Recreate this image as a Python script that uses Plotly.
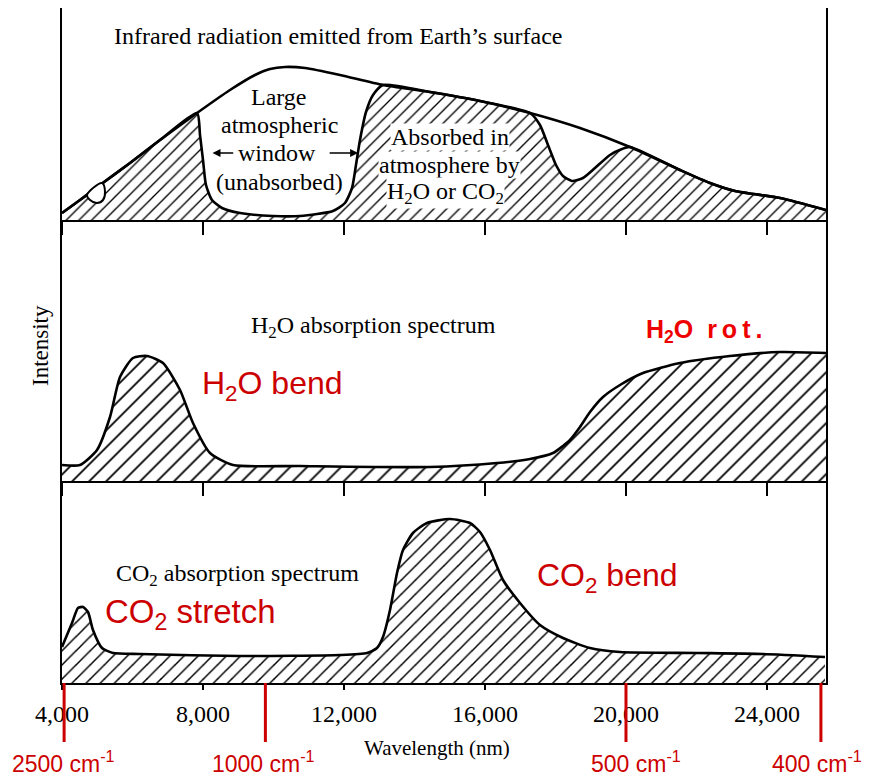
import plotly.graph_objects as go

# ---------------- data ----------------
# Top panel: infrared emission envelope from Earth's surface (arbitrary units)
surface_nm = [4000, 4511, 5078, 5929, 6780, 7830, 8766, 9475, 9901, 10326, 10894, 11887,
              13106, 14440, 15858, 17277, 18695, 20113, 21532, 22383, 23092, 24369, 25674]
surface_I = [7, 20, 35, 57, 80, 107, 130, 145, 151, 153, 152, 145,
             135, 128, 119, 107, 92, 73, 50, 37, 29, 22, 10]

# Top panel: upper boundary of the part absorbed by H2O / CO2
absorbed_nm = [4000, 4511, 5078, 5929, 6780, 7830, 7915, 8000, 8085, 8255, 8539, 9050, 9986,
               10752, 11688, 12028, 12227, 12340, 12454, 12624, 12823, 13106, 14440, 15858,
               17277, 17560, 17787, 18014, 18213, 18468, 18780, 19121, 19546, 19887, 20113,
               21532, 22383, 23092, 24369, 25674]
absorbed_I = [7, 20, 35, 57, 80, 107, 85, 60, 35, 20, 12, 7, 4,
              4, 9, 17, 32, 55, 80, 108, 125, 135, 128, 119,
              107, 95, 75, 55, 44, 39, 42, 52, 65, 71, 73,
              50, 37, 29, 22, 10]

# small unabsorbed pocket near 4,800 nm
pocket_nm = [4709, 4794, 4993, 5163, 5220, 5135, 4709]
pocket_I = [25, 20, 17, 20, 28, 37, 25]

# Middle panel: H2O absorption spectrum
h2o_nm = [4000, 4511, 4993, 5362, 5645, 6014, 6411, 6865, 7348, 7716, 8199, 8851,
          10752, 14440, 16340, 17277, 17929, 18213, 18411, 18695, 18979, 19348, 19830,
          20482, 21532, 22950, 24369, 25674]
h2o_I = [16, 16, 31, 64, 104, 123, 125, 118, 91, 58, 28, 16,
         15, 14, 18, 22, 28, 35, 41, 54, 69, 84, 96,
         108, 118, 125, 129, 128]

# Bottom panel: CO2 absorption spectrum
co2_nm = [4000, 4284, 4454, 4596, 4738, 4879, 5135, 5447, 6213, 9050, 11887, 12652, 12936,
          13106, 13305, 13504, 13674, 13957, 14355, 15007, 15574, 15858, 16142, 16511,
          16993, 17560, 18213, 18979, 19830, 22014, 23887, 25645]
co2_I = [36, 60, 75, 76, 71, 53, 35, 30, 29, 27, 28, 30, 35,
         46, 73, 110, 133, 150, 160, 164, 160, 151, 133, 103,
         80, 58, 45, 35, 31, 30, 29, 26]

tick_vals = [4000, 8000, 12000, 16000, 20000, 24000]
tick_text = ["4,000", "8,000", "12,000", "16,000", "20,000", "24,000"]

marker_nm = [4060, 9770, 20000, 25530]
marker_text = ["2500 cm<sup>-1</sup>", "1000 cm<sup>-1</sup>", "500 cm<sup>-1</sup>", "400 cm<sup>-1</sup>"]

# ---------------- figure ----------------
SERIF = "Liberation Serif"
SANS = "Liberation Sans"
RED = "#cc0000"
x_range = [4000, 25674]

fig = go.Figure()

def hatch(size):
    return dict(shape="/", size=size, solidity=0.15, fgcolor="black", bgcolor="white", fgopacity=1)

line_style = dict(color="black", width=2.6, shape="spline", smoothing=0.6)

# top panel
fig.add_trace(go.Scatter(x=absorbed_nm, y=absorbed_I, xaxis="x3", yaxis="y3", mode="lines",
                         line=line_style, fill="tozeroy", fillpattern=hatch(9), hoverinfo="skip"))
fig.add_trace(go.Scatter(x=surface_nm, y=surface_I, xaxis="x3", yaxis="y3", mode="lines",
                         line=line_style, hoverinfo="skip"))
fig.add_trace(go.Scatter(x=pocket_nm, y=pocket_I, xaxis="x3", yaxis="y3", mode="lines",
                         line=dict(color="black", width=2, shape="spline"), fill="toself",
                         fillcolor="white", hoverinfo="skip"))
# middle panel
fig.add_trace(go.Scatter(x=h2o_nm, y=h2o_I, xaxis="x2", yaxis="y2", mode="lines",
                         line=line_style, fill="tozeroy", fillpattern=hatch(12), hoverinfo="skip"))
# bottom panel
fig.add_trace(go.Scatter(x=co2_nm, y=co2_I, xaxis="x", yaxis="y", mode="lines",
                         line=line_style, fill="tozeroy", fillpattern=hatch(10), hoverinfo="skip"))

H = 675.0
d1 = 202 / H
d2 = 463 / H

axis_common = dict(range=x_range, showgrid=False, zeroline=False, showline=True,
                   linecolor="black", linewidth=2, tickvals=tick_vals, tickcolor="black",
                   tickwidth=1.5)
yaxis_common = dict(showgrid=False, zeroline=False, showline=True, mirror=True,
                    linecolor="black", linewidth=1.5, showticklabels=False, ticks="")

# the page adds an 8px body margin, so the figure is drawn 8px in from the top-left
fig.update_layout(
    width=863, height=769,
    margin=dict(l=54, r=45, t=0, b=94),
    paper_bgcolor="white", plot_bgcolor="white",
    showlegend=False,
    xaxis=dict(**axis_common, anchor="y", ticks="outside", ticklen=5, ticktext=tick_text,
               tickfont=dict(family=SERIF, size=24, color="black"), ticklabelstandoff=3),
    xaxis2=dict(**axis_common, anchor="y2", ticks="outside", ticklen=13, showticklabels=False,
                matches="x"),
    xaxis3=dict(**axis_common, anchor="y3", ticks="outside", ticklen=13, showticklabels=False,
                matches="x"),
    yaxis=dict(**yaxis_common, domain=[0, d1], range=[0, 202]),
    yaxis2=dict(**yaxis_common, domain=[d1, d2], range=[0, 261]),
    yaxis3=dict(**yaxis_common, domain=[d2, 1], range=[0, 212]),
)

ann = []
def txt(x, y, text, xref, yref, size=24, family=SERIF, color="black", xanchor="center", **kw):
    ann.append(dict(x=x, y=y, xref=xref, yref=yref, text=text, showarrow=False,
                    font=dict(family=family, size=size, color=color), xanchor=xanchor,
                    yanchor="middle", **kw))

# top panel text
txt(11830, 184, "Infrared radiation emitted from Earth\u2019s surface", "x3", "y3")
txt(10156, 123, "Large", "x3", "y3")
txt(10156, 95, "atmospheric", "x3", "y3")
txt(10100, 67, "window", "x3", "y3")
txt(10156, 38, "(unabsorbed)", "x3", "y3")
txt(15007, 83, "Absorbed in", "x3", "y3", bgcolor="white", borderpad=0)
txt(15007, 55, "atmosphere by", "x3", "y3", bgcolor="white", borderpad=0)
txt(14866, 27, "H<sub>2</sub>O or CO<sub>2</sub>", "x3", "y3", bgcolor="white", borderpad=0)
# window arrows
for tail, head in [(8900, 8270), (11550, 12400)]:
    ann.append(dict(x=head, y=67, ax=tail, ay=67, xref="x3", yref="y3", axref="x3", ayref="y3",
                    text="", showarrow=True, arrowhead=2, arrowsize=1, arrowwidth=1.6,
                    arrowcolor="black"))

# middle panel text
txt(12823, 154, "H<sub>2</sub>O absorption spectrum", "x2", "y2")
txt(7915, 96, "H<sub>2</sub>O bend", "x2", "y2", size=32, family=SANS, color=RED, xanchor="left")
txt(22213, 150, "<b>H<sub>2</sub>O  r\u2009o\u2009t\u2009.</b>", "x2", "y2", size=25, family=SANS,
    color="#ee0000")

# bottom panel text
txt(8965, 108, "CO<sub>2</sub> absorption spectrum", "x", "y")
txt(5163, 69, "CO<sub>2</sub> stretch", "x", "y", size=33, family=SANS, color=RED, xanchor="left")
txt(17419, 106, "CO<sub>2</sub> bend", "x", "y", size=32, family=SANS, color=RED, xanchor="left")

# axis titles
txt(-0.0288, 0.5007, "Intensity", "paper", "paper", size=23, textangle=-90)
txt(0.4908, -0.0963, "Wavelength (nm)", "paper", "paper", size=21)

# wavenumber markers
shapes = []
xshifts = [-1, -2, 10, -4]
for xv, t, xs in zip(marker_nm, marker_text, xshifts):
    shapes.append(dict(type="line", xref="x", yref="paper", x0=xv, x1=xv, y0=0, y1=-0.0874,
                       line=dict(color=RED, width=3)))
    ann.append(dict(x=xv, y=-0.1165, xref="x", yref="paper", text=t, showarrow=False,
                    xshift=xs, font=dict(family=SANS, size=23, color=RED),
                    xanchor="center", yanchor="middle"))

fig.update_layout(annotations=ann, shapes=shapes)
fig.write_html("out.html")
